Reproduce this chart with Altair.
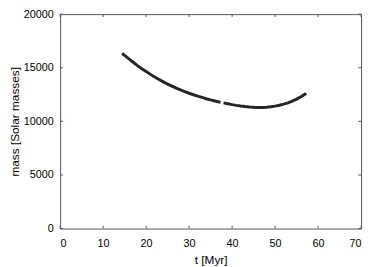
import altair as alt
import pandas as pd

# Curve (two pieces, small gap near t ~ 37.5)
t_seg1 = [14.4, 15, 16, 17, 18, 19, 20, 21, 22, 23, 24, 25, 26, 27, 28, 29, 30,
          31, 32, 33, 34, 35, 36, 37, 37.3]
m_seg1 = [16330, 16150, 15830, 15510, 15200, 14910, 14640, 14380, 14130, 13900,
          13680, 13470, 13280, 13100, 12930, 12770, 12620, 12480, 12350, 12230,
          12110, 12000, 11900, 11800, 11770]
t_seg2 = [38, 39, 40, 41, 42, 43, 44, 45, 46, 47, 48, 49, 50, 51, 52, 53, 54,
          55, 56, 57, 57.2]
m_seg2 = [11720, 11640, 11560, 11490, 11430, 11380, 11340, 11310, 11300, 11300,
          11320, 11360, 11420, 11500, 11600, 11730, 11880, 12070, 12290, 12550,
          12620]

x_ticks = [0, 10, 20, 30, 40, 50, 60, 70]
y_ticks = [0, 5000, 10000, 15000, 20000]

FONT = "Liberation Sans"

curve = pd.DataFrame({
    "t": t_seg1 + t_seg2,
    "mass": m_seg1 + m_seg2,
    "seg": ["a"] * len(t_seg1) + ["b"] * len(t_seg2),
})

xs = alt.Scale(domain=[0, 70], nice=False, zero=False)
ys = alt.Scale(domain=[0, 20000], nice=False, zero=False)

xax = alt.Axis(values=x_ticks, ticks=False, domain=False, grid=False, format="d",
               labelPadding=9, title="t [Myr]", titlePadding=7,
               labelFont=FONT, labelFontSize=11, titleFont=FONT,
               titleFontSize=12, titleFontWeight="normal", labelColor="#000",
               titleColor="#000")
yax = alt.Axis(values=y_ticks, ticks=False, domain=False, grid=False, format="d",
               labelPadding=7, title="mass [Solar masses]", titlePadding=2,
               labelFont=FONT, labelFontSize=11, titleFont=FONT,
               titleFontSize=12, titleFontWeight="normal", labelColor="#000",
               titleColor="#000")

line = alt.Chart(curve).mark_line(color="#262626", strokeWidth=3).encode(
    x=alt.X("t:Q", scale=xs, axis=xax),
    y=alt.Y("mass:Q", scale=ys, axis=yax),
    detail="seg:N",
)

# inward tick marks on all four sides
bt = pd.DataFrame({"x": x_ticks, "y": [0] * len(x_ticks), "y2": [260] * len(x_ticks)})
tt = pd.DataFrame({"x": x_ticks, "y": [20000] * len(x_ticks), "y2": [19740] * len(x_ticks)})
lt = pd.DataFrame({"y": y_ticks, "x": [0] * len(y_ticks), "x2": [0.65] * len(y_ticks)})
rt = pd.DataFrame({"y": y_ticks, "x": [70] * len(y_ticks), "x2": [69.35] * len(y_ticks)})

def vt(df):
    return alt.Chart(df).mark_rule(color="#555", strokeWidth=1).encode(
        x=alt.X("x:Q", scale=xs), y=alt.Y("y:Q", scale=ys), y2="y2:Q")

def ht(df):
    return alt.Chart(df).mark_rule(color="#555", strokeWidth=1).encode(
        y=alt.Y("y:Q", scale=ys), x=alt.X("x:Q", scale=xs), x2="x2:Q")

chart = alt.layer(vt(bt), vt(tt), ht(lt), ht(rt), line).properties(
    width=306, height=218,
    autosize=alt.AutoSizeParams(type="none"),
    padding={"left": 53, "top": 4, "right": 5, "bottom": 45},
    background="white",
).configure_view(stroke="#555", strokeWidth=1)

chart.save("out.html", embed_options={"renderer": "svg", "actions": False})
